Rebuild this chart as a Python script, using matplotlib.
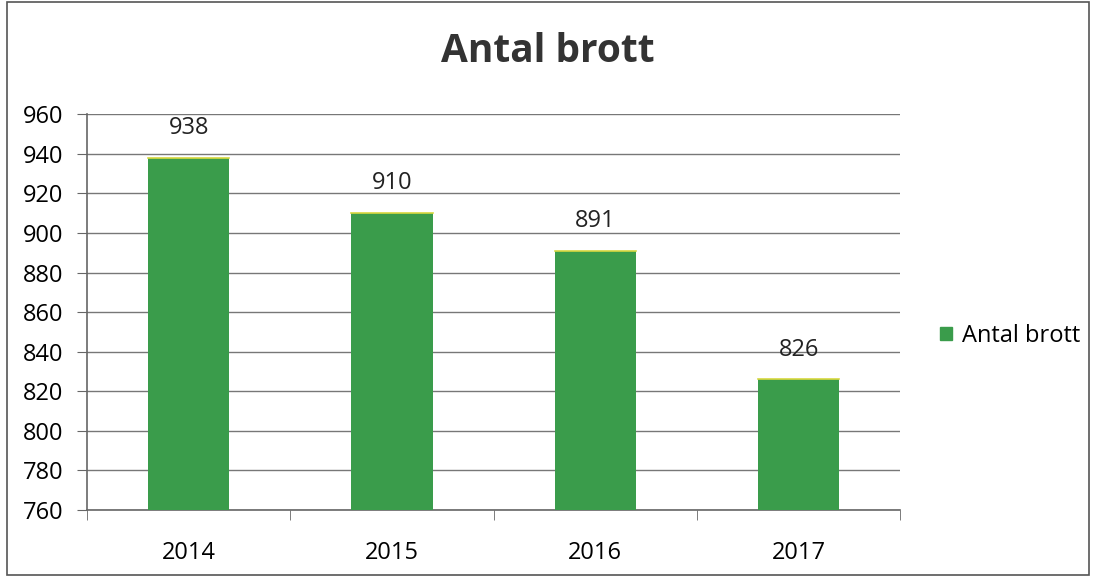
import matplotlib.pyplot as plt
import matplotlib.patches as patches
from matplotlib.ticker import FixedLocator

years = ['2014', '2015', '2016', '2017']
counts = [938, 910, 891, 826]
yticks = [760, 780, 800, 820, 840, 860, 880, 900, 920, 940, 960]

plt.rcParams['font.family'] = ['Open Sans', 'DejaVu Sans']

fig = plt.figure(figsize=(10.96, 5.77), dpi=100)
ax = fig.add_axes([0.0794, 0.116, 0.742, 0.686])

# outer frame of the chart
fig.patches.append(patches.Rectangle((0.006, 0.004), 0.988, 0.992, transform=fig.transFigure,
                                     fill=False, edgecolor='#555555', linewidth=1.2))

x = range(len(years))
bars = ax.bar(x, [c - 760 for c in counts], bottom=760, width=0.4, color='#3a9c4b',
              edgecolor='none', label='Antal brott', zorder=3)

for i, c in enumerate(counts):
    ax.plot([i - 0.2, i + 0.2], [c, c], color='#d8d840', linewidth=1.2, zorder=4)
    ax.text(i, c + 9, str(c), ha='center', va='bottom', fontsize=17, color='#222222')

ax.set_ylim(760, 960)
ax.set_xlim(-0.5, 3.5)
ax.set_yticks(yticks)
ax.set_yticklabels([str(t) for t in yticks], fontsize=17)
ax.yaxis.grid(True, color='#777777', linewidth=1.0, zorder=0)
ax.set_axisbelow(True)

ax.set_xticks(list(x))
ax.set_xticklabels(years, fontsize=17)
ax.tick_params(axis='x', which='major', length=0, pad=22)
ax.xaxis.set_minor_locator(FixedLocator([-0.5, 0.5, 1.5, 2.5, 3.5]))
ax.tick_params(axis='x', which='minor', length=7, color='#666666')
ax.tick_params(axis='y', length=7, color='#666666', pad=10)

for s in ['top', 'right']:
    ax.spines[s].set_visible(False)
ax.spines['left'].set_color('#666666')
ax.spines['bottom'].set_color('#666666')
ax.spines['left'].set_linewidth(1.2)
ax.spines['bottom'].set_linewidth(1.2)

fig.text(0.5, 0.91, 'Antal brott', ha='center', va='center', fontsize=28,
         fontweight='bold', color='#333333')

fig.legend(handles=[patches.Patch(color='#3a9c4b', label='Antal brott')],
           loc='center left', bbox_to_anchor=(0.858, 0.418), frameon=False,
           fontsize=17, handlelength=0.5, handleheight=0.5, handletextpad=0.4,
           borderpad=0, borderaxespad=0)

fig.savefig('out.png', dpi=100)
